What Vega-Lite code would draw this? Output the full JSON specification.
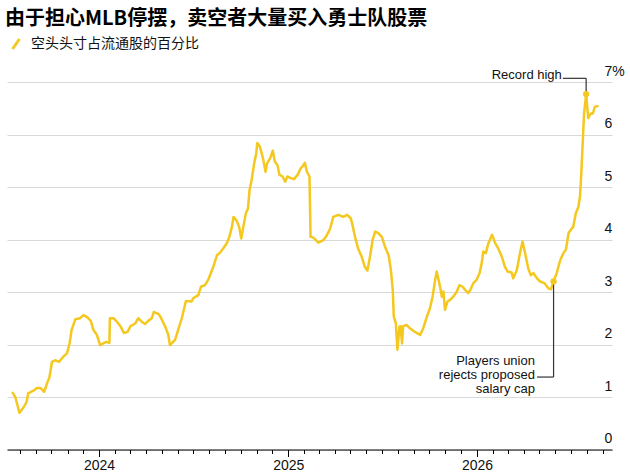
{
  "$schema": "https://vega.github.io/schema/vega-lite/v6.json",
  "width": 605,
  "height": 367.5,
  "autosize": {"type": "none"},
  "padding": {"left": 7, "top": 82, "right": 18, "bottom": 26.5},
  "background": "white",
  "title": {
    "text": "由于担心MLB停摆，卖空者大量买入勇士队股票",
    "anchor": "start",
    "frame": "group",
    "font": "Noto Sans CJK SC",
    "fontSize": 20,
    "fontWeight": "bold",
    "color": "#000",
    "dx": -2,
    "offset": 8
  },
  "datasets": {
    "short": [
      {"date": "2023-07-18", "pct": 1.08}, {"date": "2023-07-23", "pct": 1.00}, {"date": "2023-07-31", "pct": 0.70},
      {"date": "2023-08-08", "pct": 0.80}, {"date": "2023-08-14", "pct": 0.91}, {"date": "2023-08-17", "pct": 1.07},
      {"date": "2023-08-27", "pct": 1.12}, {"date": "2023-09-03", "pct": 1.17}, {"date": "2023-09-10", "pct": 1.17},
      {"date": "2023-09-17", "pct": 1.10}, {"date": "2023-09-22", "pct": 1.25}, {"date": "2023-09-27", "pct": 1.37},
      {"date": "2023-10-02", "pct": 1.67}, {"date": "2023-10-08", "pct": 1.70}, {"date": "2023-10-16", "pct": 1.67},
      {"date": "2023-10-24", "pct": 1.77}, {"date": "2023-10-31", "pct": 1.83}, {"date": "2023-11-05", "pct": 2.02},
      {"date": "2023-11-09", "pct": 2.28}, {"date": "2023-11-16", "pct": 2.48}, {"date": "2023-11-25", "pct": 2.50},
      {"date": "2023-12-02", "pct": 2.56}, {"date": "2023-12-09", "pct": 2.52}, {"date": "2023-12-16", "pct": 2.45},
      {"date": "2023-12-21", "pct": 2.28}, {"date": "2023-12-28", "pct": 2.18}, {"date": "2024-01-03", "pct": 1.99},
      {"date": "2024-01-09", "pct": 2.02}, {"date": "2024-01-15", "pct": 2.05}, {"date": "2024-01-21", "pct": 2.03},
      {"date": "2024-01-22", "pct": 2.50}, {"date": "2024-01-29", "pct": 2.50}, {"date": "2024-02-05", "pct": 2.43},
      {"date": "2024-02-12", "pct": 2.34}, {"date": "2024-02-18", "pct": 2.22}, {"date": "2024-02-25", "pct": 2.24},
      {"date": "2024-03-02", "pct": 2.35}, {"date": "2024-03-11", "pct": 2.40}, {"date": "2024-03-17", "pct": 2.50},
      {"date": "2024-03-24", "pct": 2.43}, {"date": "2024-03-30", "pct": 2.39}, {"date": "2024-04-05", "pct": 2.45},
      {"date": "2024-04-12", "pct": 2.50}, {"date": "2024-04-16", "pct": 2.62}, {"date": "2024-04-25", "pct": 2.58},
      {"date": "2024-04-28", "pct": 2.54}, {"date": "2024-05-08", "pct": 2.34}, {"date": "2024-05-14", "pct": 2.18},
      {"date": "2024-05-17", "pct": 1.99}, {"date": "2024-05-27", "pct": 2.09}, {"date": "2024-06-02", "pct": 2.28},
      {"date": "2024-06-09", "pct": 2.50}, {"date": "2024-06-17", "pct": 2.83}, {"date": "2024-06-28", "pct": 2.82},
      {"date": "2024-07-01", "pct": 2.88}, {"date": "2024-07-11", "pct": 2.94}, {"date": "2024-07-16", "pct": 3.10},
      {"date": "2024-07-24", "pct": 3.13}, {"date": "2024-07-30", "pct": 3.23}, {"date": "2024-08-09", "pct": 3.48},
      {"date": "2024-08-16", "pct": 3.70}, {"date": "2024-08-22", "pct": 3.75}, {"date": "2024-08-28", "pct": 3.83},
      {"date": "2024-09-04", "pct": 3.93}, {"date": "2024-09-09", "pct": 4.05}, {"date": "2024-09-14", "pct": 4.24},
      {"date": "2024-09-17", "pct": 4.43}, {"date": "2024-09-23", "pct": 4.36}, {"date": "2024-09-28", "pct": 4.24},
      {"date": "2024-10-02", "pct": 4.02}, {"date": "2024-10-06", "pct": 4.24}, {"date": "2024-10-11", "pct": 4.50},
      {"date": "2024-10-15", "pct": 4.59}, {"date": "2024-10-18", "pct": 4.94}, {"date": "2024-10-22", "pct": 5.13},
      {"date": "2024-10-27", "pct": 5.45}, {"date": "2024-10-31", "pct": 5.64}, {"date": "2024-11-02", "pct": 5.84},
      {"date": "2024-11-07", "pct": 5.77}, {"date": "2024-11-13", "pct": 5.55}, {"date": "2024-11-18", "pct": 5.29},
      {"date": "2024-11-21", "pct": 5.45}, {"date": "2024-11-27", "pct": 5.55}, {"date": "2024-12-02", "pct": 5.69},
      {"date": "2024-12-06", "pct": 5.48}, {"date": "2024-12-11", "pct": 5.42}, {"date": "2024-12-15", "pct": 5.23},
      {"date": "2024-12-21", "pct": 5.20}, {"date": "2024-12-26", "pct": 5.10}, {"date": "2024-12-30", "pct": 5.20},
      {"date": "2025-01-06", "pct": 5.17}, {"date": "2025-01-12", "pct": 5.15}, {"date": "2025-01-19", "pct": 5.23},
      {"date": "2025-01-24", "pct": 5.34}, {"date": "2025-01-29", "pct": 5.40}, {"date": "2025-02-02", "pct": 5.46},
      {"date": "2025-02-06", "pct": 5.29}, {"date": "2025-02-11", "pct": 5.20}, {"date": "2025-02-13", "pct": 4.05},
      {"date": "2025-02-18", "pct": 4.04}, {"date": "2025-02-28", "pct": 3.94}, {"date": "2025-03-10", "pct": 3.99},
      {"date": "2025-03-16", "pct": 4.07}, {"date": "2025-03-23", "pct": 4.21}, {"date": "2025-03-29", "pct": 4.43},
      {"date": "2025-04-08", "pct": 4.47}, {"date": "2025-04-17", "pct": 4.43}, {"date": "2025-04-25", "pct": 4.47},
      {"date": "2025-05-02", "pct": 4.40}, {"date": "2025-05-06", "pct": 4.24}, {"date": "2025-05-10", "pct": 4.05},
      {"date": "2025-05-16", "pct": 3.83}, {"date": "2025-05-23", "pct": 3.67}, {"date": "2025-05-29", "pct": 3.48},
      {"date": "2025-06-03", "pct": 3.41}, {"date": "2025-06-08", "pct": 3.67}, {"date": "2025-06-13", "pct": 3.99},
      {"date": "2025-06-18", "pct": 4.15}, {"date": "2025-06-24", "pct": 4.12}, {"date": "2025-07-01", "pct": 4.05},
      {"date": "2025-07-07", "pct": 3.86}, {"date": "2025-07-14", "pct": 3.70}, {"date": "2025-07-18", "pct": 3.45},
      {"date": "2025-07-22", "pct": 3.04}, {"date": "2025-07-24", "pct": 2.53}, {"date": "2025-07-28", "pct": 2.40},
      {"date": "2025-07-31", "pct": 1.90}, {"date": "2025-08-04", "pct": 2.34}, {"date": "2025-08-06", "pct": 2.35},
      {"date": "2025-08-09", "pct": 2.02}, {"date": "2025-08-11", "pct": 2.35}, {"date": "2025-08-18", "pct": 2.37},
      {"date": "2025-08-24", "pct": 2.31}, {"date": "2025-09-03", "pct": 2.24}, {"date": "2025-09-13", "pct": 2.18},
      {"date": "2025-09-19", "pct": 2.31}, {"date": "2025-09-26", "pct": 2.53}, {"date": "2025-10-02", "pct": 2.69},
      {"date": "2025-10-07", "pct": 2.91}, {"date": "2025-10-12", "pct": 3.23}, {"date": "2025-10-15", "pct": 3.39},
      {"date": "2025-10-20", "pct": 3.17}, {"date": "2025-10-25", "pct": 2.91}, {"date": "2025-10-28", "pct": 3.01},
      {"date": "2025-10-31", "pct": 2.66}, {"date": "2025-11-05", "pct": 2.82}, {"date": "2025-11-10", "pct": 2.85},
      {"date": "2025-11-16", "pct": 2.91}, {"date": "2025-11-23", "pct": 3.01}, {"date": "2025-11-28", "pct": 3.13},
      {"date": "2025-12-04", "pct": 3.10}, {"date": "2025-12-09", "pct": 3.04}, {"date": "2025-12-15", "pct": 2.98},
      {"date": "2025-12-19", "pct": 3.04}, {"date": "2025-12-25", "pct": 3.17}, {"date": "2025-12-31", "pct": 3.23},
      {"date": "2026-01-06", "pct": 3.36}, {"date": "2026-01-10", "pct": 3.55}, {"date": "2026-01-13", "pct": 3.77},
      {"date": "2026-01-18", "pct": 3.74}, {"date": "2026-01-23", "pct": 3.93}, {"date": "2026-01-30", "pct": 4.09},
      {"date": "2026-02-05", "pct": 3.93}, {"date": "2026-02-11", "pct": 3.83}, {"date": "2026-02-18", "pct": 3.67},
      {"date": "2026-02-24", "pct": 3.48}, {"date": "2026-03-01", "pct": 3.39}, {"date": "2026-03-09", "pct": 3.37},
      {"date": "2026-03-12", "pct": 3.26}, {"date": "2026-03-19", "pct": 3.42}, {"date": "2026-03-25", "pct": 3.74},
      {"date": "2026-03-30", "pct": 3.96}, {"date": "2026-04-04", "pct": 3.74}, {"date": "2026-04-10", "pct": 3.45},
      {"date": "2026-04-15", "pct": 3.32}, {"date": "2026-04-20", "pct": 3.36}, {"date": "2026-04-27", "pct": 3.26},
      {"date": "2026-05-03", "pct": 3.20}, {"date": "2026-05-11", "pct": 3.17}, {"date": "2026-05-19", "pct": 3.07},
      {"date": "2026-05-24", "pct": 3.05}, {"date": "2026-05-29", "pct": 3.20}, {"date": "2026-06-04", "pct": 3.36},
      {"date": "2026-06-11", "pct": 3.61}, {"date": "2026-06-17", "pct": 3.74}, {"date": "2026-06-22", "pct": 3.81},
      {"date": "2026-06-27", "pct": 4.12}, {"date": "2026-07-01", "pct": 4.18}, {"date": "2026-07-06", "pct": 4.24},
      {"date": "2026-07-11", "pct": 4.50}, {"date": "2026-07-16", "pct": 4.62}, {"date": "2026-07-19", "pct": 4.82},
      {"date": "2026-07-21", "pct": 5.13}, {"date": "2026-07-24", "pct": 5.77}, {"date": "2026-07-27", "pct": 6.40},
      {"date": "2026-07-31", "pct": 6.77}, {"date": "2026-08-02", "pct": 6.53}, {"date": "2026-08-04", "pct": 6.31},
      {"date": "2026-08-09", "pct": 6.40}, {"date": "2026-08-13", "pct": 6.40}, {"date": "2026-08-17", "pct": 6.53},
      {"date": "2026-08-22", "pct": 6.54}
    ],
    "dots": [
      {"date": "2026-05-29", "pct": 3.20},
      {"date": "2026-07-31", "pct": 6.77}
    ],
    "leaders": [
      {"d1": "2026-06-16", "d2": "2026-07-31", "v1": 7.07, "v2": 7.07},
      {"d1": "2026-07-31", "d2": "2026-07-31", "v1": 7.07, "v2": 6.77},
      {"d1": "2026-05-29", "d2": "2026-05-29", "v1": 3.20, "v2": 1.38},
      {"d1": "2026-04-27", "d2": "2026-05-29", "v1": 1.38, "v2": 1.38}
    ],
    "notes": [
      {"date": "2026-06-14", "pct": 7.13, "note": "Record high"},
      {"date": "2026-04-23", "pct": 1.69, "note": "Players union"},
      {"date": "2026-04-23", "pct": 1.42, "note": "rejects proposed"},
      {"date": "2026-04-23", "pct": 1.16, "note": "salary cap"}
    ]
  },
  "layer": [
    {
      "data": {"name": "short"},
      "mark": {"type": "line", "strokeWidth": 2.5, "strokeJoin": "round", "strokeCap": "round"},
      "encoding": {
        "x": {
          "field": "date",
          "type": "temporal",
          "scale": {"domain": [{"year": 2023, "month": 7, "date": 7}, {"year": 2026, "month": 9, "date": 19}]},
          "axis": {
            "orient": "bottom",
            "title": null,
            "tickCount": {"interval": "month", "step": 1},
            "labels": false,
            "grid": false,
            "domain": true,
            "domainColor": "#000",
            "domainWidth": 1,
            "tickColor": "#000",
            "tickSize": 4
          }
        },
        "y": {
          "field": "pct",
          "type": "quantitative",
          "scale": {"domain": [0, 7], "nice": false},
          "axis": {
            "orient": "right",
            "title": null,
            "values": [0, 1, 2, 3, 4, 5, 6, 7],
            "grid": true,
            "gridColor": "#d9d9d9",
            "domain": false,
            "ticks": false,
            "labelAlign": "left",
            "labelBaseline": "alphabetic",
            "labelPadding": -8,
            "labelOffset": -7,
            "labelFontSize": 14,
            "labelColor": "#111",
            "labelExpr": "datum.value == 7 ? '7%' : datum.label"
          }
        },
        "color": {
          "datum": "空头头寸占流通股的百分比",
          "scale": {"range": ["#F4C81E"]},
          "legend": {
            "orient": "none",
            "legendX": 2,
            "legendY": -45,
            "title": null,
            "padding": 0,
            "symbolType": "M-0.7,1L0.7,-1",
            "symbolSize": 100,
            "symbolStrokeWidth": 3,
            "symbolStrokeColor": "#F4C81E",
            "labelFont": "Noto Sans CJK SC",
            "labelFontSize": 14,
            "labelLimit": 400,
            "labelColor": "#111",
            "labelOffset": 8
          }
        }
      }
    },
    {
      "data": {"name": "leaders"},
      "mark": {"type": "rule", "color": "#333", "strokeWidth": 1.2},
      "encoding": {
        "x": {"field": "d1", "type": "temporal", "axis": null},
        "x2": {"field": "d2"},
        "y": {"field": "v1", "type": "quantitative", "axis": null},
        "y2": {"field": "v2"}
      }
    },
    {
      "data": {"name": "dots"},
      "mark": {"type": "circle", "size": 40, "color": "#F4C81E", "opacity": 1},
      "encoding": {
        "x": {
          "field": "date",
          "type": "temporal",
          "axis": {
            "orient": "bottom",
            "title": null,
            "tickCount": {"interval": "year", "step": 1},
            "format": "%Y",
            "grid": false,
            "domain": false,
            "tickColor": "#000",
            "tickSize": 7,
            "labelPadding": 2,
            "labelFlush": false,
            "labelFontSize": 14,
            "labelColor": "#111"
          }
        },
        "y": {"field": "pct", "type": "quantitative", "axis": null}
      }
    },
    {
      "data": {"name": "notes"},
      "mark": {"type": "text", "align": "right", "baseline": "middle", "font": "Liberation Sans", "fontSize": 13, "color": "#111"},
      "encoding": {
        "x": {"field": "date", "type": "temporal", "axis": null},
        "y": {"field": "pct", "type": "quantitative", "axis": null},
        "text": {"field": "note"}
      }
    }
  ],
  "resolve": {"axis": {"x": "independent", "y": "independent"}},
  "config": {
    "view": {"stroke": null},
    "axis": {"labelFont": "Liberation Sans"},
    "legend": {"labelFont": "Noto Sans CJK SC"}
  }
}
